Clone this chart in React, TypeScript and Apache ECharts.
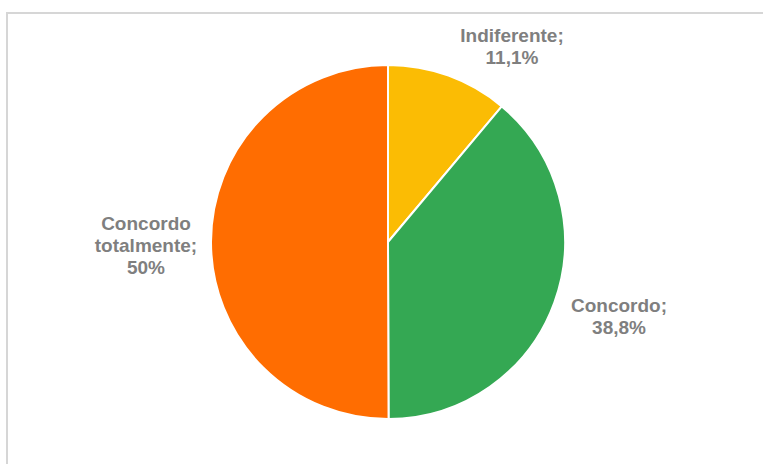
import React, { useEffect, useRef } from "react";
import * as echarts from "echarts";

// Survey answers, clockwise from 12 o'clock
const categories = ["Indiferente", "Concordo", "Concordo totalmente"];
const labelNames = ["Indiferente", "Concordo", "Concordo\ntotalmente"];
const percentages = [11.1, 38.8, 50];
const sliceColors = ["#FBBC04", "#34A853", "#FF6D01"];

// Where each slice's label is centred
const labelCenters: [number, number][] = [
  [512, 46],
  [619, 316],
  [146, 245],
];

const fmt = (v: number) => String(v).replace(".", ",") + "%";

export default function App() {
  const ref = useRef<HTMLDivElement>(null);

  useEffect(() => {
    if (!ref.current) return;
    const chart = echarts.init(ref.current, null, { renderer: "svg" });
    chart.setOption({
      animation: false,
      backgroundColor: "#ffffff",
      graphic: [
        {
          type: "rect",
          shape: { x: 7, y: 13, width: 800, height: 500 },
          style: { fill: "none", stroke: "#d6d6d6", lineWidth: 2 },
          z: -1,
        },
      ],
      series: [
        {
          type: "pie",
          center: [388, 242],
          radius: 177,
          startAngle: 90,
          clockwise: true,
          avoidLabelOverlap: false,
          itemStyle: { borderColor: "#ffffff", borderWidth: 2 },
          emphasis: { disabled: true },
          labelLine: { show: false },
          label: {
            show: true,
            position: "outside",
            formatter: (p: any) => labelNames[p.dataIndex] + ";\n" + fmt(p.value),
            fontFamily: "'Liberation Sans', Arial, sans-serif",
            fontWeight: "bold",
            fontSize: 19,
            lineHeight: 22,
            color: "#7f7f7f",
            align: "center",
          },
          labelLayout: (params: any) => ({
            x: labelCenters[params.dataIndex][0],
            y: labelCenters[params.dataIndex][1],
            align: "center",
            verticalAlign: "middle",
          }),
          data: categories.map((name, i) => ({
            name,
            value: percentages[i],
            itemStyle: { color: sliceColors[i] },
          })),
        },
      ],
    });
    return () => chart.dispose();
  }, []);

  return (
    <div
      ref={ref}
      style={{ position: "absolute", left: 0, top: 0, width: 763, height: 464 }}
    />
  );
}
